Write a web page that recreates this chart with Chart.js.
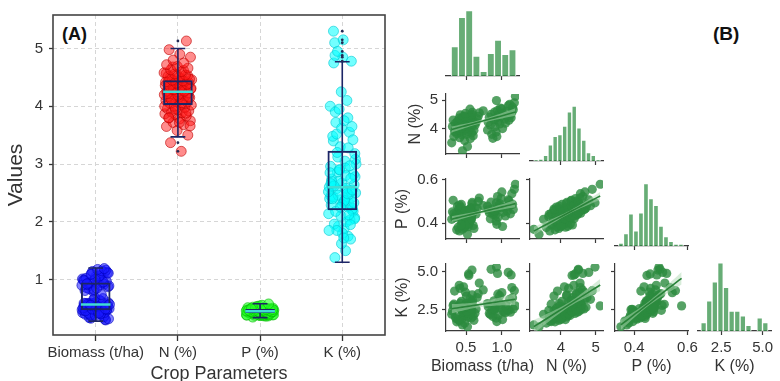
<!DOCTYPE html>
<html><head><meta charset="utf-8">
<script src="https://cdn.jsdelivr.net/npm/chart.js@4.4.0/dist/chart.umd.min.js"></script>
<style>
html,body{margin:0;padding:0;background:#fff;width:780px;height:381px;overflow:hidden;position:relative;}
canvas{position:absolute;}
.lbl{position:absolute;font-family:"Liberation Sans",Arial,sans-serif;font-weight:bold;color:#111;line-height:1;}
</style></head><body>
<div class="lbl" style="left:62px;top:25px;font-size:18px">(A)</div>
<div class="lbl" style="left:713px;top:24px;font-size:19px">(B)</div>
<script>
// ---------------- DATA ----------------
const categories = ['Biomass (t/ha)', 'N (%)', 'P (%)', 'K (%)'];

const biomass = [0.45,0.52,0.30,0.48,0.56,0.41,0.33,0.60,0.44,0.505,
 0.37,0.58,0.425,0.53,0.34,0.47,0.61,0.40,0.545,0.36,
 0.497,0.435,0.573,0.31,0.515,0.465,0.625,0.39,0.55,0.445,
 0.586,0.35,0.50,0.475,0.64,0.415,0.565,0.38,0.525,0.483,
 0.592,0.32,0.455,0.54,0.43,0.655,0.51,0.405,0.576,0.486,
 0.535,0.46,0.67,0.489,0.57,0.42,0.583,0.492,0.685,0.589,
 0.74,0.555,
 0.875,0.93,0.86,0.92,0.80,1.01,0.905,0.84,0.97,1.05,
 0.81,0.95,1.10,0.89,1.035,0.91,1.13,0.825,0.99,1.075,
 0.945,1.12,0.85,1.02,0.96,1.14,0.90,1.06,0.94,1.16,
 1.00,0.98,1.15,1.09,1.11,1.175,0.925,1.19];

const nitrogen = [3.22,3.37,3.50,3.58,3.65,3.68,3.72,3.75,3.78,3.80,
 3.83,3.85,3.87,3.89,3.90,3.92,3.94,3.96,3.98,4.00,
 4.02,4.03,4.05,4.07,4.08,4.10,4.12,4.13,4.15,4.16,
 4.17,4.18,4.19,4.20,4.21,4.22,4.23,4.25,4.26,4.27,
 4.28,4.30,4.31,4.32,4.33,4.34,4.36,4.37,4.38,4.40,
 4.41,4.42,4.43,4.44,4.46,4.48,4.50,4.53,4.55,4.57,
 4.62,4.68,
 3.66,3.72,3.80,3.88,3.95,4.00,4.06,4.12,4.16,4.19,
 4.22,4.26,4.29,4.31,4.33,4.35,4.38,4.40,4.42,4.44,
 4.45,4.47,4.50,4.52,4.54,4.56,4.58,4.60,4.63,4.66,
 4.69,4.72,4.75,4.80,4.85,4.90,4.98,5.13];

const phosphorus = [0.372,0.35,0.418,0.38,0.43,0.365,0.444,0.39,0.41,0.459,
 0.37,0.436,0.474,0.384,0.425,0.447,0.376,0.466,0.40,0.441,
 0.388,0.486,0.422,0.452,0.394,0.437,0.47,0.382,0.445,0.405,
 0.495,0.429,0.455,0.386,0.442,0.462,0.414,0.477,0.432,0.396,
 0.451,0.505,0.427,0.448,0.392,0.468,0.438,0.483,0.42,0.45,
 0.46,0.434,0.50,0.443,0.471,0.44,0.489,0.457,0.515,0.446,
 0.48,0.464,
 0.44,0.395,0.465,0.41,0.478,0.385,0.453,0.42,0.49,0.433,
 0.461,0.428,0.502,0.446,0.473,0.437,0.485,0.448,0.513,0.456,
 0.468,0.443,0.497,0.45,0.482,0.535,0.458,0.475,0.522,0.463,
 0.543,0.47,0.487,0.507,0.48,0.555,0.493,0.578];

const potassium = [1.50,1.38,2.20,1.62,2.45,1.75,2.86,2.07,1.88,3.40,
 1.70,2.38,2.60,2.00,3.72,2.18,1.80,2.74,2.32,1.92,
 2.50,3.05,1.96,2.42,2.10,4.00,2.26,1.85,2.64,2.34,
 3.48,2.03,2.90,2.14,2.55,3.90,2.23,2.67,2.29,2.47,
 3.12,2.78,2.36,4.75,2.52,3.30,2.40,4.10,2.57,2.82,
 4.85,2.62,3.55,2.70,3.00,2.93,5.10,3.65,4.25,2.96,
 3.80,3.20,
 2.05,1.72,2.43,1.95,2.90,1.85,2.58,2.18,3.42,2.30,
 2.70,2.12,2.46,3.08,2.37,2.62,4.78,2.25,2.85,2.49,
 3.52,2.33,5.15,2.40,2.97,3.95,2.52,2.80,4.88,2.55,
 3.62,2.66,3.28,4.95,3.18,3.75,5.30,2.75];

// box-plot statistics
const boxLow    = [0.28, 3.47, 0.34, 1.30];
const boxQ1     = [0.47, 4.02, 0.42, 2.20];
const boxMedian = [0.57, 4.25, 0.45, 2.60];
const boxQ3     = [0.95, 4.45, 0.49, 3.23];
const boxHigh   = [1.20, 5.00, 0.58, 4.77];
const valueTicks = [1, 2, 3, 4, 5];

// histogram counts (B) diagonal
const histBiomassCounts    = [31, 62, 69, 21, 5, 24, 38, 23, 28];
const histBiomassBins      = [0.292, 0.1008];   // first edge, bin width
const histNitrogenCounts   = [1, 2, 6, 17, 26, 28, 37, 52, 58, 35, 22, 9, 6, 1];
const histNitrogenBins     = [3.216, 0.1372];
const histPhosphorusCounts = [3, 13, 34, 16, 35, 66, 50, 43, 21, 10, 5, 2, 2];
const histPhosphorusBins   = [0.341, 0.01877];
const histPotassiumCounts  = [9, 32, 52, 72, 46, 21, 21, 16, 6, 0, 14, 9];
const histPotassiumBins    = [1.27, 0.338];

// pair-plot axis ticks
const biomassTicks = [0.5, 1.0];    const biomassTickLabels = ['0.5', '1.0'];
const nitrogenTicks = [4, 5];       const nitrogenTickLabels = ['4', '5'];
const phosphorusTicks = [0.4, 0.6]; const phosphorusTickLabels = ['0.4', '0.6'];
const potassiumTicks = [2.5, 5.0];  const potassiumTickLabels = ['2.5', '5.0'];

// ---------------- STYLE / LAYOUT ----------------
const FONT = "'Liberation Sans', Arial, sans-serif";
const TXT = '#333333';
const SPINE = '#3a3a3a';
const NAVY = '#1c2566';
const MED = '#3fdcd4';
Chart.defaults.font.family = FONT;
Chart.defaults.animation = false;
Chart.defaults.events = [];
Chart.defaults.plugins.legend.display = false;
Chart.defaults.plugins.tooltip.enabled = false;

function makeCanvas(left, top, w, h) {
  const c = document.createElement('canvas');
  c.width = w; c.height = h;
  c.style.left = left + 'px'; c.style.top = top + 'px';
  c.style.width = w + 'px'; c.style.height = h + 'px';
  document.body.appendChild(c);
  return c;
}

// ---------------- PANEL A ----------------
(function () {
  const W = 392, H = 392;
  const plotL = 53, plotR = 385, plotT = 13, plotB = 335;
  const cv = makeCanvas(0, 0, W, H);
  const series = [biomass, nitrogen, phosphorus, potassium];
  const fills = ['rgba(25,25,255,0.55)', 'rgba(255,25,25,0.5)', 'rgba(40,255,40,0.6)', 'rgba(0,255,255,0.55)'];
  const edges = ['rgba(0,0,190,0.6)', 'rgba(190,0,0,0.6)', 'rgba(0,185,0,0.6)', 'rgba(0,200,210,0.6)'];
  const jitter = j => ((((j + 1) * 0.6180339887) % 1) - 0.5) * 0.34;

  const datasets = [];
  series.forEach((vals, k) => {
    datasets.push({
      type: 'scatter', order: 10,
      data: vals.map((v, j) => ({x: k + jitter(j), y: v})),
      backgroundColor: fills[k], borderColor: edges[k], borderWidth: 1, pointRadius: 5
    });
  });
  datasets.push({
    type: 'bar', order: 3,
    data: categories.map((c, k) => ({x: k, y: [boxQ1[k], boxQ3[k]]})),
    backgroundColor: 'rgba(0,0,0,0)', borderColor: NAVY, borderWidth: 2, borderSkipped: false,
    barPercentage: 0.36, categoryPercentage: 1
  });
  const cap = 0.09, half = 0.18;
  const whisk = [];
  categories.forEach((c, k) => {
    whisk.push({x: k, y: boxLow[k]}, {x: k, y: boxHigh[k]}, {x: k, y: null});
    whisk.push({x: k - cap, y: boxLow[k]}, {x: k + cap, y: boxLow[k]}, {x: k, y: null});
    whisk.push({x: k - cap, y: boxHigh[k]}, {x: k + cap, y: boxHigh[k]}, {x: k, y: null});
  });
  datasets.push({type: 'line', order: 2, data: whisk, borderColor: NAVY, borderWidth: 1.6, pointRadius: 0, spanGaps: false, fill: false});
  const meds = [];
  categories.forEach((c, k) => { meds.push({x: k - half, y: boxMedian[k]}, {x: k + half, y: boxMedian[k]}, {x: k, y: null}); });
  datasets.push({type: 'line', order: 1, data: meds, borderColor: MED, borderWidth: 2.5, pointRadius: 0, spanGaps: false, fill: false});
  const fl = [];
  series.forEach((vals, k) => vals.forEach(v => { if (v < boxLow[k] || v > boxHigh[k]) fl.push({x: k, y: v}); }));
  datasets.push({type: 'scatter', order: 0, data: fl, backgroundColor: '#222a55', borderWidth: 0, pointRadius: 1.4});

  const frame = {
    id: 'frame',
    afterDatasetsDraw(chart) {
      const {ctx, chartArea: a} = chart;
      ctx.save(); ctx.strokeStyle = '#444'; ctx.lineWidth = 1.6;
      ctx.strokeRect(a.left, a.top, a.right - a.left, a.bottom - a.top);
      ctx.restore();
    }
  };

  new Chart(cv, {
    type: 'bar',
    data: {datasets},
    plugins: [frame],
    options: {
      responsive: false,
      layout: {padding: {left: 0, top: plotT, right: W - plotR, bottom: 0}},
      scales: {
        x: {
          type: 'linear', min: -0.52, max: 3.52, offset: false, bounds: 'data',
          afterBuildTicks: s => { s.ticks = categories.map((c, k) => ({value: k})); },
          afterFit: s => { s.height = H - plotB; },
          ticks: {autoSkip: false, maxRotation: 0, minRotation: 0, padding: 3, color: TXT, font: {size: 15},
                  callback: v => categories[Math.round(v)]},
          grid: {color: '#d6d6d6', lineWidth: 1, offset: false, drawTicks: true, tickLength: 6, tickColor: '#333', tickWidth: 1.3, tickBorderDash: []},
          border: {display: false, dash: [4, 3]},
          title: {display: true, text: 'Crop Parameters', color: TXT, font: {size: 18}, padding: {top: 0, bottom: 7}}
        },
        y: {
          type: 'linear', min: 0.04, max: 5.58, bounds: 'data',
          afterBuildTicks: s => { s.ticks = valueTicks.map(v => ({value: v})); },
          afterFit: s => { s.width = plotL; },
          ticks: {padding: 6, color: TXT, font: {size: 15}, callback: v => String(v)},
          grid: {color: '#d6d6d6', lineWidth: 1, drawTicks: true, tickLength: 4, tickColor: '#333', tickWidth: 1.3, tickBorderDash: []},
          border: {display: false, dash: [4, 3]},
          title: {display: true, text: 'Values', color: TXT, font: {size: 21}, padding: {top: 4, bottom: 0}}
        }
      }
    }
  });
})();

// ---------------- PANEL B ----------------
(function () {
  const vars = [
    {values: biomass, range: [0.22, 1.24], ticks: biomassTicks, labels: biomassTickLabels, title: 'Biomass (t/ha)', hist: histBiomassCounts, bins: histBiomassBins},
    {values: nitrogen, range: [3.11, 5.21], ticks: nitrogenTicks, labels: nitrogenTickLabels, title: 'N (%)', hist: histNitrogenCounts, bins: histNitrogenBins},
    {values: phosphorus, range: [0.328, 0.602], ticks: phosphorusTicks, labels: phosphorusTickLabels, title: 'P (%)', hist: histPhosphorusCounts, bins: histPhosphorusBins},
    {values: potassium, range: [1.1, 5.5], ticks: potassiumTicks, labels: potassiumTickLabels, title: 'K (%)', hist: histPotassiumCounts, bins: histPotassiumBins}
  ];
  const colLeft = [446, 530, 615, 698], colW = 73;
  const rowTop = [5, 90, 175, 260], rowH = 71;
  const HIST_MAX = 75;
  const TITLE_Y = 367;   // page y of the bottom-row axis titles
  const PT = 'rgba(44,139,62,0.8)';
  const LINE = 'rgb(40,130,56)';
  const BAND = 'rgba(175,218,180,0.5)';
  const HISTC = 'rgba(60,150,80,0.78)';

  function xTitle(text, canvasTop) {
    return {
      id: 'xTitle',
      afterDraw(chart) {
        const {ctx, chartArea: a} = chart;
        ctx.save();
        ctx.font = '16px ' + FONT; ctx.fillStyle = TXT;
        ctx.textAlign = 'center'; ctx.textBaseline = 'middle';
        ctx.fillText(text, (a.left + a.right) / 2, TITLE_Y - canvasTop);
        ctx.restore();
      }
    };
  }
  function xScale(v, showLabels, B) {
    return {
      type: 'linear', min: v.range[0], max: v.range[1], offset: false, bounds: 'data',
      afterBuildTicks: s => { s.ticks = v.ticks.map(t => ({value: t})); },
      afterFit: s => { s.height = B; },
      ticks: {autoSkip: false, maxRotation: 0, minRotation: 0, padding: 4, color: TXT, font: {size: 15},
              callback: (val, i) => showLabels ? v.labels[i] : ''},
      grid: {display: true, offset: false, drawOnChartArea: false, drawTicks: true, tickLength: 4, tickColor: SPINE, tickWidth: 1.2},
      border: {display: true, color: SPINE, width: 1.2},
      title: {display: false}
    };
  }
  function yScale(v, showLabels, L) {
    return {
      type: 'linear', min: v.range[0], max: v.range[1], bounds: 'data',
      afterBuildTicks: s => { s.ticks = v.ticks.map(t => ({value: t})); },
      afterFit: s => { s.width = L; },
      ticks: {padding: 4, color: TXT, font: {size: 15}, callback: (val, i) => showLabels ? v.labels[i] : ''},
      grid: {display: true, drawOnChartArea: false, drawTicks: true, tickLength: 4, tickColor: SPINE, tickWidth: 1.2},
      border: {display: true, color: SPINE, width: 1.2},
      title: {display: showLabels, text: v.title, color: TXT, font: {size: 16}, padding: {top: 0, bottom: 0}}
    };
  }
  function fit(xs, ys) {
    const n = xs.length;
    const mx = xs.reduce((a, b) => a + b, 0) / n, my = ys.reduce((a, b) => a + b, 0) / n;
    let sxx = 0, sxy = 0;
    for (let i = 0; i < n; i++) { sxx += (xs[i] - mx) ** 2; sxy += (xs[i] - mx) * (ys[i] - my); }
    const b = sxy / sxx, a = my - b * mx;
    let sse = 0;
    for (let i = 0; i < n; i++) sse += (ys[i] - a - b * xs[i]) ** 2;
    return {a, b, s: Math.sqrt(sse / (n - 2)), mx, sxx, n};
  }

  for (let r = 0; r < 4; r++) {
    for (let c = 0; c <= r; c++) {
      const diag = r === c;
      const L = (c === 0 && !diag) ? (r === 1 ? 40 : 53) : 6;
      const T = 9, R = r === 3 ? 30 : 9;
      const B = r === 3 ? 391 - (rowTop[3] + rowH) : 6;
      const cTop = rowTop[r] - T;
      const cv = makeCanvas(colLeft[c] - L, cTop, colW + L + R, rowH + T + B);
      const xv = vars[c], yv = vars[r];
      const xs = xScale(xv, r === 3, B);
      const plugins = r === 3 ? [xTitle(xv.title, cTop)] : [];
      if (diag) {
        new Chart(cv, {
          type: 'bar',
          data: {datasets: [{
            data: xv.hist.map((n, i) => ({x: xv.bins[0] + (i + 0.5) * xv.bins[1], y: n})),
            backgroundColor: HISTC, borderColor: 'rgba(255,255,255,0.9)', borderWidth: 1,
            barPercentage: 1, categoryPercentage: 1
          }]},
          plugins,
          options: {
            responsive: false,
            layout: {padding: {left: L, top: T, right: R, bottom: 0}},
            scales: {x: xs, y: {display: false, min: 0, max: HIST_MAX}}
          }
        });
      } else {
        const f = fit(xv.values, yv.values);
        const x0 = Math.min(...xv.values), x1 = Math.max(...xv.values);
        const up = [], lo = [], mid = [];
        for (let i = 0; i <= 24; i++) {
          const x = x0 + (x1 - x0) * i / 24;
          const yh = f.a + f.b * x;
          const se = f.s * Math.sqrt(1 / f.n + (x - f.mx) ** 2 / f.sxx) * 1.98;
          up.push({x, y: yh + se}); lo.push({x, y: yh - se}); mid.push({x, y: yh});
        }
        new Chart(cv, {
          type: 'scatter',
          data: {datasets: [
            {type: 'scatter', order: 5, data: xv.values.map((x, i) => ({x, y: yv.values[i]})),
             backgroundColor: PT, borderColor: PT, borderWidth: 0, pointRadius: 4.6},
            {type: 'line', order: 3, data: up, borderWidth: 0, pointRadius: 0, fill: '+1', backgroundColor: BAND, borderColor: 'rgba(0,0,0,0)'},
            {type: 'line', order: 4, data: lo, borderWidth: 0, pointRadius: 0, fill: false, borderColor: 'rgba(0,0,0,0)'},
            {type: 'line', order: 1, data: mid, borderWidth: 1.6, pointRadius: 0, fill: false, borderColor: LINE}
          ]},
          plugins,
          options: {
            responsive: false,
            layout: {padding: {left: 0, top: T, right: R, bottom: 0}},
            scales: {x: xs, y: yScale(yv, c === 0, L)}
          }
        });
      }
    }
  }
})();
</script>
</body></html>
